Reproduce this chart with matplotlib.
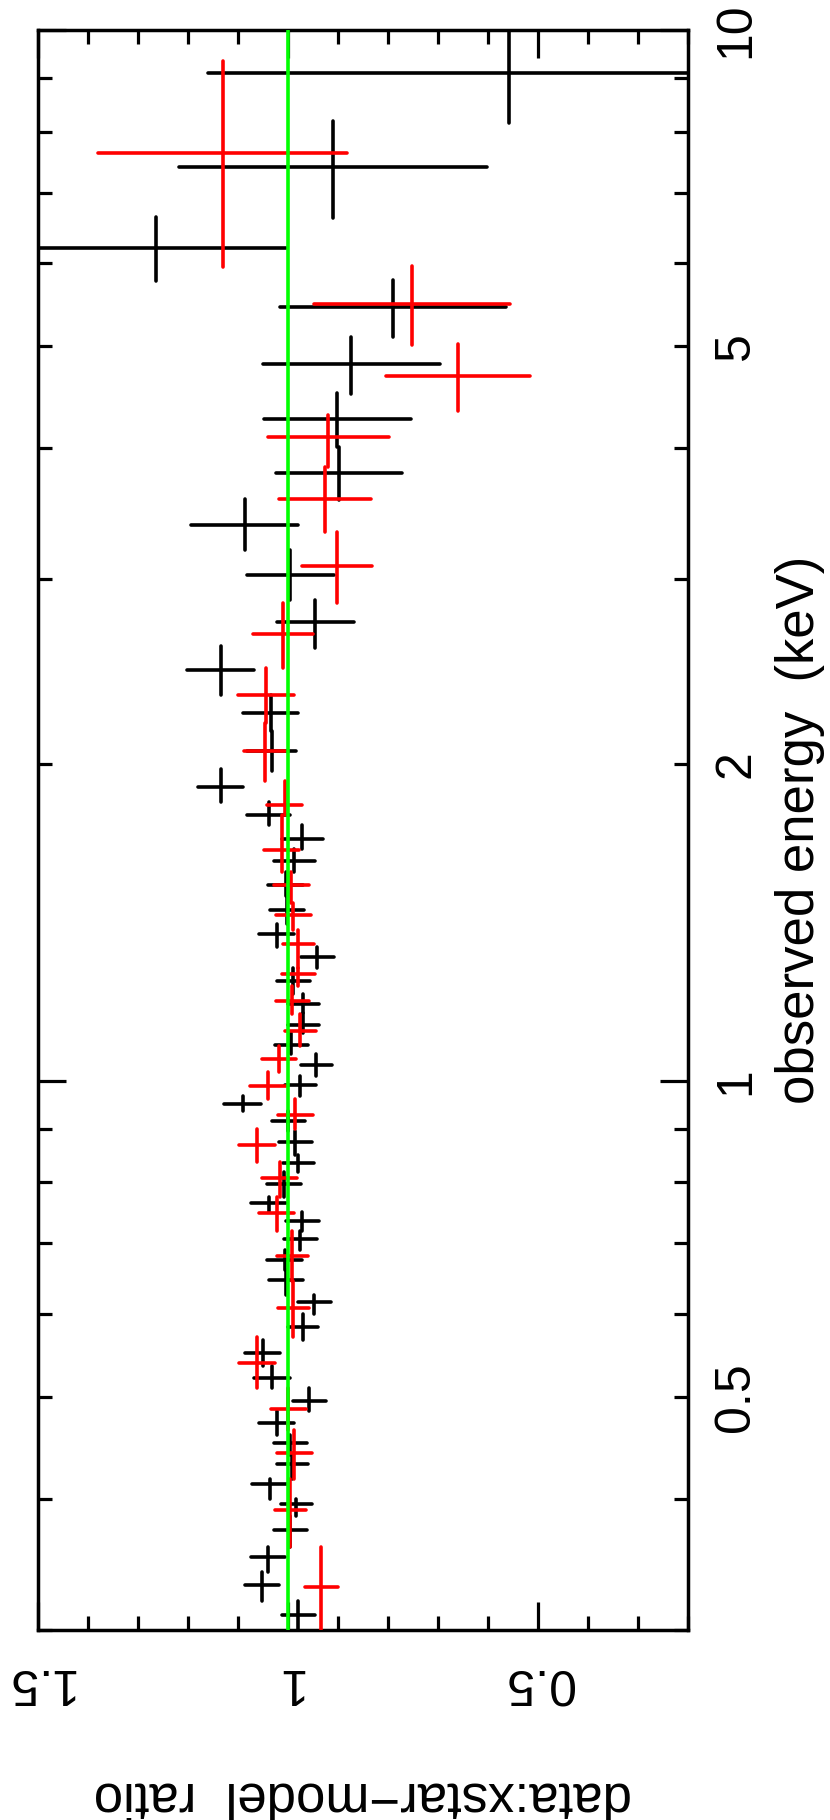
import numpy as np
import matplotlib.pyplot as plt


# =========================
# DATA
# =========================

# black spectrum: bin centre, low edge, high edge (keV), ratio, ratio error
black_energy = [9.1, 7.40, 6.20, 5.45, 4.81, 4.26, 3.79, 3.38, 3.03, 2.73,
                2.46, 2.24, 2.06, 1.905, 1.79, 1.70, 1.617, 1.537, 1.455, 1.38,
                1.31, 1.245, 1.184, 1.13, 1.082, 1.036, 0.991, 0.951, 0.916, 0.875,
                0.834, 0.798, 0.765, 0.736, 0.706, 0.675, 0.646, 0.616, 0.583, 0.55,
                0.521, 0.496, 0.472, 0.452, 0.432, 0.413, 0.395, 0.3735, 0.352, 0.331,
                0.31]
black_e_lo = [8.15, 6.62, 5.77, 5.10, 4.50, 4.01, 3.57, 3.20, 2.87, 2.58,
              2.33, 2.15, 1.97, 1.84, 1.75, 1.66, 1.58, 1.50, 1.41, 1.34,
              1.28, 1.21, 1.16, 1.11, 1.06, 1.01, 0.967, 0.935, 0.895, 0.85,
              0.818, 0.775, 0.75, 0.72, 0.69, 0.66, 0.625, 0.60, 0.566, 0.535,
              0.51, 0.485, 0.46, 0.44, 0.418, 0.40, 0.385, 0.36, 0.341, 0.32,
              0.30]
black_e_hi = [10.2, 8.19, 6.64, 5.78, 5.10, 4.51, 4.01, 3.58, 3.20, 2.87,
              2.59, 2.33, 2.15, 1.98, 1.84, 1.75, 1.66, 1.58, 1.50, 1.41,
              1.34, 1.28, 1.21, 1.16, 1.11, 1.06, 1.01, 0.967, 0.935, 0.895,
              0.85, 0.818, 0.775, 0.75, 0.72, 0.69, 0.66, 0.625, 0.60, 0.566,
              0.535, 0.51, 0.485, 0.46, 0.44, 0.418, 0.40, 0.385, 0.36, 0.341,
              0.32]
black_ratio = [0.558, 0.909, 1.264, 0.789, 0.873, 0.901, 0.897, 1.087, 0.995, 0.945,
               1.135, 1.035, 1.033, 1.135, 1.039, 0.971, 0.987, 1.005, 1.002, 1.023,
               0.941, 0.989, 0.969, 0.969, 0.993, 0.943, 0.975, 1.091, 0.999, 0.985,
               0.979, 1.009, 1.039, 0.971, 0.975, 1.007, 1.005, 0.947, 0.969, 1.051,
               1.033, 0.957, 1.023, 0.995, 0.991, 1.037, 0.983, 0.995, 1.041, 1.053,
               0.979]
black_err = [0.601, 0.308, 0.261, 0.226, 0.177, 0.148, 0.126, 0.107, 0.087, 0.077,
             0.066, 0.055, 0.049, 0.044, 0.043, 0.041, 0.042, 0.035, 0.035, 0.035,
             0.033, 0.034, 0.032, 0.032, 0.034, 0.031, 0.032, 0.037, 0.034, 0.033,
             0.032, 0.034, 0.035, 0.034, 0.034, 0.035, 0.034, 0.033, 0.030, 0.035,
             0.036, 0.033, 0.035, 0.034, 0.032, 0.035, 0.032, 0.033, 0.034, 0.034,
             0.034]

# red spectrum
red_energy = [7.64, 5.48, 4.68, 4.10, 3.58, 3.09, 2.66, 2.33, 2.06, 1.83,
              1.656, 1.537, 1.439, 1.35, 1.264, 1.19, 1.116, 1.049, 0.989, 0.928,
              0.869, 0.808, 0.749, 0.681, 0.607, 0.539, 0.487, 0.442, 0.39, 0.33]
red_e_lo = [5.95, 5.01, 4.34, 3.84, 3.33, 2.85, 2.47, 2.19, 1.93, 1.79,
            1.58, 1.475, 1.39, 1.28, 1.23, 1.156, 1.08, 1.02, 0.96, 0.90,
            0.837, 0.775, 0.72, 0.645, 0.57, 0.51, 0.465, 0.418, 0.36, 0.295]
red_e_hi = [9.34, 5.96, 5.03, 4.30, 3.84, 3.33, 2.85, 2.47, 2.19, 1.93,
            1.79, 1.58, 1.475, 1.39, 1.28, 1.23, 1.156, 1.08, 1.02, 0.96,
            0.90, 0.837, 0.775, 0.72, 0.645, 0.57, 0.51, 0.465, 0.418, 0.36]
red_ratio = [1.131, 0.751, 0.660, 0.919, 0.925, 0.901, 1.011, 1.045, 1.047, 1.007,
             1.013, 0.993, 0.989, 0.979, 0.979, 0.991, 0.975, 1.019, 1.041, 0.985,
             1.063, 1.017, 1.023, 0.991, 0.989, 1.063, 0.999, 0.987, 0.995, 0.933]
red_err = [0.250, 0.196, 0.144, 0.122, 0.092, 0.070, 0.060, 0.056, 0.041, 0.035,
           0.035, 0.035, 0.036, 0.032, 0.033, 0.033, 0.031, 0.034, 0.036, 0.035,
           0.036, 0.035, 0.035, 0.032, 0.032, 0.036, 0.036, 0.035, 0.032, 0.033]

model_ratio = 1.0

ratio_major = [0.5, 1.0, 1.5]
ratio_minor = [0.2, 0.3, 0.4, 0.6, 0.7, 0.8, 0.9, 1.1, 1.2, 1.3, 1.4]
ratio_labels = ["0.5", "1", "1.5"]

energy_major = [1, 10]
energy_major_labels = ["1", "10"]
energy_minor = [0.3, 0.4, 0.5, 0.6, 0.7, 0.8, 0.9, 2, 3, 4, 5, 6, 7, 8, 9]
energy_minor_labelled = [0.5, 2, 5]


# =========================
# PLOT (rotated XSPEC style: energy runs up, ratio runs right-to-left)
# =========================

plt.rcParams["font.family"] = ["Liberation Sans", "DejaVu Sans"]

fig = plt.figure(figsize=(8.3, 18.2), dpi=100)
ax = fig.add_axes([38 / 830, 1 - 1630 / 1820, 650 / 830, 1600 / 1820])


def yerr_of(e, lo, hi):
    e = np.asarray(e)
    return [e - np.asarray(lo), np.asarray(hi) - e]


eb_black = ax.errorbar(black_ratio, black_energy, xerr=black_err,
                       yerr=yerr_of(black_energy, black_e_lo, black_e_hi),
                       fmt="none", ecolor="black", elinewidth=2.6, capsize=0, zorder=2)
eb_red = ax.errorbar(red_ratio, red_energy, xerr=red_err,
                     yerr=yerr_of(red_energy, red_e_lo, red_e_hi),
                     fmt="none", ecolor="#ff0000", elinewidth=2.6, capsize=0, zorder=3)
for eb in (eb_black, eb_red):
    for coll in eb[2]:
        coll.set_capstyle("round")

ax.axvline(model_ratio, color="#00ff00", lw=2.6, zorder=4)

ax.set_yscale("log")
ax.set_ylim(0.3, 10)
ax.set_xlim(1.5, 0.2)

ax.set_xticks(ratio_major, labels=ratio_labels)
ax.set_xticks(ratio_minor, minor=True)
ax.set_yticks(energy_major, labels=energy_major_labels)
ax.set_yticks(energy_minor,
              labels=[f"{v:g}" if v in energy_minor_labelled else "" for v in energy_minor],
              minor=True)

ax.tick_params(which="both", direction="in", top=True, bottom=True,
               left=True, right=True, labelleft=False, labelright=True,
               width=2.3, labelsize=36)
ax.tick_params(which="major", length=20)
ax.tick_params(which="minor", length=10)
ax.tick_params(axis="x", which="both", pad=21, labelrotation=180)
ax.tick_params(axis="y", which="both", pad=18, labelrotation=90)

for lbl in ax.get_yticklabels(which="both"):
    lbl.set_verticalalignment("center")

for spine in ax.spines.values():
    spine.set_linewidth(2.5)

ax.set_xlabel("data:xstar\u2212model  ratio", fontsize=38, rotation=180)
ax.xaxis.label.set_rotation_mode("default")
ax.xaxis.label.set_verticalalignment("center")
ax.xaxis.set_label_coords(0.5, (1630 - 1796) / 1600)

ax.yaxis.set_label_position("right")
ax.set_ylabel("observed energy  (keV)", fontsize=38, rotation=90)
ax.yaxis.label.set_rotation_mode("default")
ax.yaxis.label.set_horizontalalignment("center")
ax.yaxis.label.set_verticalalignment("center")
ax.yaxis.set_label_coords((800 - 38) / 650, 0.5)

fig.savefig("out.png", dpi=100)
